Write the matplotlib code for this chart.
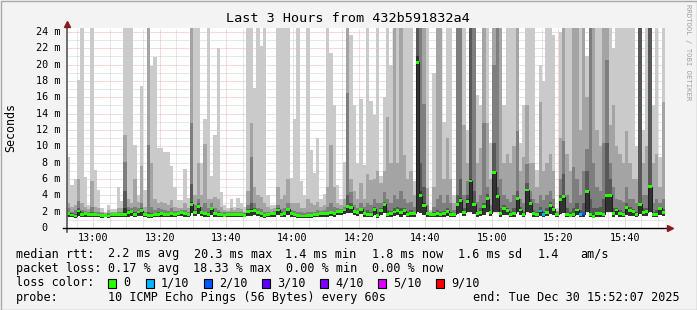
import numpy as np
import matplotlib
matplotlib.use('Agg')
import matplotlib.pyplot as plt
from matplotlib.patches import Rectangle

# one column per minute, 12:52 -> 15:52, values in ms
# smoke band tops (10 pings sorted: p10, p9, p8, p7, p6), bottom p1 and median
light = [8.7, 5.3, 6.0, 18.1, 30, 6.3, 2.8, 30, 7.1, 4.6,
         2.5, 2.0, 2.8, 2.3, 2.3, 5.0, 3.3, 30, 30, 30,
         10.1, 4.0, 17.4, 4.6, 30, 19.8, 20.9, 9.8, 9.8, 9.3,
         9.3, 7.6, 5.0, 3.4, 3.4, 7.2, 3.7, 30, 30, 30,
         8.0, 13.3, 30, 6.4, 11.4, 22.0, 4.4, 2.8, 2.4, 3.6,
         2.6, 3.7, 3.0, 2.6, 30, 30, 17.1, 30, 22.3, 30,
         4.0, 2.8, 2.8, 30, 30, 30, 30, 6.1, 13.3, 30,
         5.7, 4.0, 30, 9.6, 6.7, 11.0, 3.6, 4.2, 30, 21.4,
         15.1, 5.3, 3.6, 8.1, 30, 23.6, 15.1, 8.0, 15.8, 7.7,
         30, 15.5, 13.8, 30, 6.4, 16.0, 30, 20.0, 30, 30,
         30, 30, 30, 30, 5.7, 30, 30, 30, 30, 2.2,
         19.0, 30, 30, 13.0, 30, 30, 4.0, 30, 30, 30,
         12.0, 30, 30, 16.3, 15.1, 30, 30, 10.4, 30, 30,
         30, 15.1, 30, 30, 30, 30, 10.4, 15.1, 30, 30,
         30, 7.1, 20.0, 18.0, 30, 30, 23.6, 2.4, 24.0, 30,
         30, 30, 30, 30, 30, 30, 21.0, 30, 30, 30,
         30, 30, 30, 30, 22.0, 30, 30, 30, 30, 30,
         30, 10.0, 30, 12.0, 30, 30, 15.0, 30, 8.7, 30]
mid = [3.0, 2.6, 2.8, 6.0, 3.0, 2.6, 2.3, 5.8, 2.6, 2.4,
       2.0, 1.8, 2.2, 2.0, 2.0, 2.5, 2.4, 11.4, 3.5, 3.0,
       6.0, 3.2, 7.6, 2.6, 30, 8.0, 3.5, 3.0, 3.2, 3.0,
       2.8, 3.4, 2.6, 2.4, 2.5, 3.0, 2.5, 30, 4.0, 8.0,
       4.0, 10.3, 3.6, 3.6, 3.8, 3.5, 2.6, 2.2, 2.1, 2.5,
       2.2, 2.4, 2.3, 2.0, 4.5, 12.8, 5.0, 4.0, 3.8, 3.0,
       2.6, 2.3, 2.4, 5.0, 3.5, 4.0, 6.0, 3.0, 3.0, 3.0,
       2.5, 2.4, 3.5, 3.0, 2.8, 3.2, 2.6, 2.8, 5.0, 10.2,
       5.0, 3.0, 2.8, 3.5, 30, 6.0, 4.5, 3.5, 5.5, 3.6,
       6.6, 5.9, 6.0, 7.0, 5.5, 7.0, 13.6, 8.0, 30, 8.0,
       30, 8.9, 6.0, 7.0, 4.0, 30, 30, 30, 4.9, 2.0,
       5.0, 30, 30, 6.0, 11.0, 6.0, 3.0, 30, 30, 12.6,
       8.0, 30, 30, 8.0, 9.8, 30, 12.8, 6.0, 30, 30,
       30, 8.0, 9.0, 8.0, 10.0, 30, 7.0, 8.7, 15.1, 7.9,
       8.0, 5.0, 15.4, 7.0, 8.0, 9.0, 7.0, 2.1, 11.0, 30,
       9.1, 7.0, 30, 30, 12.0, 30, 16.0, 30, 30, 12.0,
       10.0, 30, 30, 12.6, 15.0, 10.0, 9.0, 8.0, 11.9, 8.0,
       6.0, 6.0, 30, 8.0, 10.0, 30, 8.0, 9.0, 5.0, 15.4]
dark1 = [2.4, 2.0, 2.2, 3.3, 2.2, 2.1, 2.0, 2.6, 2.0, 1.9,
         1.8, 1.7, 1.8, 1.8, 1.8, 2.0, 1.9, 8.1, 2.6, 2.4,
         2.6, 2.4, 3.0, 2.0, 10.2, 2.6, 2.2, 2.4, 2.3, 2.2,
         2.1, 2.4, 2.1, 2.1, 2.2, 2.2, 2.0, 12.8, 2.8, 3.6,
         2.6, 3.0, 2.4, 3.0, 2.4, 2.2, 2.0, 1.9, 1.9, 2.0,
         1.9, 2.0, 1.95, 1.8, 2.8, 8.7, 3.0, 2.5, 2.3, 2.0,
         2.0, 2.0, 2.1, 2.8, 2.3, 2.4, 3.0, 2.2, 2.1, 2.0,
         1.9, 1.8, 2.0, 2.0, 2.0, 2.2, 2.1, 2.2, 2.6, 3.0,
         2.6, 2.4, 2.3, 2.6, 16.5, 4.4, 2.8, 2.4, 3.0, 2.6,
         3.0, 2.8, 3.5, 3.0, 3.0, 4.4, 3.5, 3.0, 4.0, 3.5,
         4.5, 3.5, 3.0, 3.2, 2.6, 30, 30, 15.2, 2.8, 1.8,
         2.6, 3.5, 4.0, 3.0, 4.0, 3.0, 2.2, 30, 30, 4.0,
         5.7, 30, 30, 3.2, 4.0, 12.8, 5.0, 2.8, 20.0, 30,
         6.0, 4.0, 3.5, 3.2, 4.0, 11.9, 3.6, 3.0, 7.8, 4.5,
         3.5, 3.0, 4.0, 3.4, 4.0, 4.5, 3.5, 1.9, 6.0, 10.7,
         4.0, 3.0, 7.5, 6.0, 4.0, 7.0, 9.7, 30, 8.0, 5.0,
         4.5, 10.4, 20.6, 8.0, 5.0, 3.5, 3.4, 3.2, 5.0, 3.6,
         3.5, 3.0, 30, 4.0, 4.0, 30, 3.0, 3.5, 3.0, 3.5]
dark2 = [2.0, 1.8, 1.7, 2.5, 1.9, 1.9, 1.8, 2.0, 1.8, 1.7,
         1.6, 1.6, 1.6, 1.7, 1.7, 1.8, 1.7, 4.5, 2.2, 2.2,
         2.0, 2.1, 2.4, 1.8, 2.0, 1.8, 1.8, 1.9, 2.0, 1.8,
         1.8, 2.0, 1.8, 1.9, 2.0, 1.9, 1.8, 5.4, 2.2, 3.0,
         2.1, 2.0, 1.9, 2.6, 2.0, 1.9, 1.8, 1.7, 1.8, 1.85,
         1.8, 1.75, 1.8, 1.65, 2.3, 3.0, 2.4, 2.1, 1.95, 1.7,
         1.8, 1.85, 1.9, 2.4, 1.9, 2.0, 2.5, 1.9, 1.8, 1.7,
         1.6, 1.6, 1.65, 1.7, 1.75, 1.8, 1.85, 1.9, 2.0, 2.1,
         2.0, 2.15, 2.15, 2.35, 4.0, 3.0, 2.2, 2.05, 2.5, 2.0,
         2.2, 2.0, 2.6, 2.0, 2.4, 3.2, 2.2, 2.1, 2.4, 2.6,
         2.4, 2.5, 2.0, 2.2, 2.0, 30, 8.0, 5.0, 2.0, 1.68,
         1.9, 2.2, 2.0, 2.1, 2.5, 2.0, 1.8, 4.0, 6.0, 2.5,
         4.0, 30, 4.5, 2.0, 2.4, 3.0, 4.2, 2.0, 10.4, 5.0,
         2.5, 2.8, 2.5, 2.0, 2.4, 4.5, 2.6, 2.0, 5.5, 3.5,
         2.2, 2.0, 2.6, 2.0, 2.5, 3.2, 2.6, 1.8, 4.0, 6.6,
         2.4, 2.0, 2.5, 3.0, 2.2, 3.0, 7.0, 3.5, 2.4, 2.4,
         2.6, 3.5, 10.4, 6.0, 2.5, 2.5, 2.2, 2.0, 3.0, 2.6,
         2.3, 2.0, 30, 2.4, 2.5, 30, 2.0, 2.2, 2.6, 2.3]
dark3 = [1.9, 1.7, 1.6, 2.2, 1.8, 1.8, 1.7, 1.8, 1.7, 1.65,
         1.55, 1.58, 1.5, 1.68, 1.68, 1.72, 1.66, 2.4, 2.0, 2.1,
         1.8, 2.0, 2.2, 1.7, 1.6, 1.6, 1.7, 1.8, 1.85, 1.72,
         1.7, 1.8, 1.72, 1.84, 1.9, 1.8, 1.7, 3.2, 2.0, 2.8,
         2.0, 1.8, 1.75, 2.4, 1.85, 1.75, 1.72, 1.6, 1.75, 1.78,
         1.7, 1.68, 1.75, 1.6, 2.1, 2.3, 2.2, 2.0, 1.8, 1.6,
         1.72, 1.8, 1.83, 2.3, 1.8, 1.85, 2.35, 1.84, 1.72, 1.6,
         1.52, 1.52, 1.55, 1.56, 1.68, 1.72, 1.78, 1.83, 1.8, 1.98,
         1.85, 2.05, 2.08, 2.25, 2.8, 2.6, 2.05, 1.95, 2.35, 1.85,
         1.8, 1.7, 2.35, 1.6, 2.15, 3.0, 1.72, 1.82, 2.0, 2.25,
         1.95, 2.2, 1.72, 1.8, 1.83, 21.0, 4.5, 3.0, 1.8, 1.65,
         1.7, 1.8, 1.72, 1.8, 2.1, 1.66, 1.7, 3.1, 3.7, 2.0,
         3.5, 6.0, 3.1, 1.82, 1.92, 2.7, 3.8, 1.9, 7.0, 4.1,
         1.8, 2.5, 2.15, 1.75, 1.85, 3.8, 2.3, 1.78, 4.8, 3.2,
         1.8, 1.72, 2.2, 1.7, 2.0, 2.8, 2.4, 1.75, 3.6, 4.0,
         1.8, 1.6, 1.7, 2.3, 1.68, 1.85, 4.7, 1.8, 1.55, 1.8,
         1.9, 1.8, 4.2, 4.2, 1.9, 2.3, 1.9, 1.75, 2.6, 2.2,
         2.1, 1.7, 3.1, 2.0, 2.1, 5.3, 1.8, 1.8, 2.45, 2.0]
median = [1.79, 1.59, 1.47, 2.08, 1.67, 1.75, 1.63, 1.67, 1.63, 1.59,
          1.51, 1.55, 1.47, 1.63, 1.63, 1.67, 1.63, 1.67, 1.88, 2.0,
          1.71, 1.96, 2.12, 1.67, 1.51, 1.51, 1.63, 1.71, 1.79, 1.67,
          1.63, 1.75, 1.67, 1.79, 1.84, 1.75, 1.63, 2.9, 1.88, 2.61,
          1.92, 1.75, 1.67, 2.33, 1.79, 1.67, 1.67, 1.55, 1.71, 1.71,
          1.67, 1.63, 1.71, 1.55, 2.0, 2.08, 2.12, 1.92, 1.75, 1.51,
          1.67, 1.75, 1.79, 2.2, 1.71, 1.79, 2.29, 1.79, 1.67, 1.55,
          1.47, 1.47, 1.51, 1.51, 1.63, 1.67, 1.75, 1.79, 1.75, 1.92,
          1.79, 2.0, 2.04, 2.2, 2.61, 2.53, 2.0, 1.92, 2.29, 1.79,
          1.67, 1.63, 2.29, 1.55, 2.12, 2.9, 1.67, 1.79, 1.96, 2.17,
          1.88, 2.12, 1.67, 1.75, 1.79, 20.3, 3.96, 2.7, 1.75, 1.63,
          1.67, 1.75, 1.67, 1.75, 2.04, 1.63, 1.67, 2.9, 3.4, 1.92,
          3.3, 5.75, 2.9, 1.79, 1.88, 2.6, 3.6, 1.88, 6.8, 3.9,
          1.75, 2.4, 2.1, 1.7, 1.8, 3.6, 2.2, 1.7, 4.65, 3.0,
          1.75, 1.67, 2.08, 1.6, 1.9, 2.7, 2.3, 1.7, 3.5, 3.8,
          1.7, 1.55, 1.6, 2.2, 1.6, 1.75, 4.5, 1.7, 1.45, 1.75,
          1.8, 1.7, 4.0, 4.0, 1.8, 2.2, 1.8, 1.7, 2.5, 2.1,
          2.0, 1.6, 2.9, 1.9, 2.0, 5.06, 1.7, 1.7, 2.4, 1.9]
low = [1.4, 1.3, 1.2, 1.5, 1.3, 1.4, 1.3, 1.3, 1.3, 1.3,
       1.2, 1.3, 1.2, 1.4, 1.4, 1.4, 1.3, 1.3, 1.4, 1.5,
       1.4, 1.5, 1.5, 1.3, 1.2, 1.2, 1.3, 1.4, 1.4, 1.3,
       1.3, 1.4, 1.3, 1.5, 1.5, 1.4, 1.3, 1.8, 1.5, 1.7,
       1.5, 1.4, 1.3, 1.6, 1.4, 1.3, 1.3, 1.3, 1.4, 1.4,
       1.4, 1.3, 1.4, 1.3, 1.5, 1.5, 1.6, 1.5, 1.4, 1.2,
       1.3, 1.4, 1.4, 1.6, 1.4, 1.4, 1.6, 1.4, 1.3, 1.2,
       1.2, 1.2, 1.2, 1.2, 1.3, 1.3, 1.4, 1.4, 1.4, 1.5,
       1.4, 1.6, 1.6, 1.7, 1.8, 1.8, 1.6, 1.5, 1.7, 1.4,
       1.3, 1.3, 1.6, 1.2, 1.6, 1.8, 1.3, 1.4, 1.5, 1.6,
       1.4, 1.6, 1.3, 1.4, 1.4, 2.0, 1.8, 1.6, 1.3, 1.4,
       1.3, 1.4, 1.3, 1.4, 1.5, 1.3, 1.3, 1.7, 1.8, 1.5,
       1.9, 2.0, 1.7, 1.4, 1.5, 1.6, 2.0, 1.5, 2.0, 1.9,
       1.4, 1.6, 1.6, 1.4, 1.4, 1.9, 1.6, 1.4, 1.9, 1.8,
       1.4, 1.3, 1.5, 1.3, 1.5, 1.7, 1.6, 1.4, 1.7, 1.8,
       1.4, 1.3, 1.3, 1.6, 1.3, 1.4, 1.9, 1.4, 1.2, 1.4,
       1.4, 1.4, 1.9, 1.9, 1.4, 1.6, 1.4, 1.4, 1.6, 1.5,
       1.5, 1.3, 1.7, 1.5, 1.5, 2.0, 1.4, 1.4, 1.6, 1.5]

# minutes with packet loss and how many of 10 pings were lost
loss_cols = [142, 143, 154, 155]
loss_vals = [1, 1, 1, 2]

loss_labels = ['0', '1/10', '2/10', '3/10', '4/10', '5/10', '9/10']
loss_colors = ['#26ff00', '#00b8ff', '#0059ff', '#5e00ff', '#7e00ff', '#dd00ff', '#ff0000']

time_labels = ['13:00', '13:20', '13:40', '14:00', '14:20', '14:40', '15:00', '15:20', '15:40']
first_tick = 7.88  # 13:00 is 7.88 min after the start (12:52:07)

W, H = 697, 310
MONO = 'DejaVu Sans Mono'

fig = plt.figure(figsize=(W / 100, H / 100), dpi=100, facecolor='#f3f3f3')
ax = fig.add_axes([67 / W, (H - 228) / H, 598 / W, 200 / H])
ax.set_facecolor('white')
ax.set_xlim(0, 180)
ax.set_ylim(0, 24.48)
for s in ax.spines.values():
    s.set_visible(False)

# grid, behind the smoke
dot = (0, (1, 1))
for v in range(1, 25):
    c = '#f0b4b4' if v % 2 == 0 else '#d0d0d0'
    ax.axhline(v, color=c, lw=0.72, ls=dot, zorder=0.5, snap=True)
for m in np.arange(first_tick - 5, 180, 5):
    major = abs(((m - first_tick) % 20)) < 0.01
    ax.axvline(m, color='#f0b4b4' if major else '#d0d0d0', lw=0.72, ls=dot,
               zorder=0.5, snap=True)

# smoke
n = len(median)
xe = np.arange(n + 1)


def ext(a):
    a = np.asarray(a, dtype=float)
    return np.append(a, a[-1])


bands = [(light, '#cacaca'), (mid, '#a4a4a4'), (dark1, '#7e7e7e'),
         (dark2, '#585858'), (dark3, '#323232')]
for top, col in bands:
    ax.fill_between(xe, ext(low), ext(top), step='post', color=col, lw=0, zorder=2)

# median line and loss coloured marks
med = np.asarray(median)
ax.step(xe, ext(median), where='post', color='#202020', lw=0.75, zorder=3)
cols = [loss_colors[0]] * n
for c, l in zip(loss_cols, loss_vals):
    cols[c] = loss_colors[l]
ax.bar(np.arange(n), 0.36, bottom=med - 0.18, width=1, align='edge',
       color=cols, lw=0, zorder=4)

# axes lines + arrows
ax.plot([0, 0], [-0.02, 1.0], transform=ax.transAxes, color='#555555', lw=1.2,
        clip_on=False, zorder=5)
ax.plot([-0.006, 1.004], [0, 0], transform=ax.transAxes, color='black', lw=1.0,
        clip_on=False, zorder=5)
ax.plot([0], [1.022], marker='^', ms=4.5, color='#8b1a1a', transform=ax.transAxes,
        clip_on=False, zorder=6)
ax.plot([1.008], [0], marker='>', ms=4.5, color='#8b1a1a', transform=ax.transAxes,
        clip_on=False, zorder=6)

# tick labels
ax.set_xticks([first_tick + 20 * i for i in range(len(time_labels))])
ax.set_xticklabels(time_labels, family=MONO, fontsize=7.3)
ax.set_yticks([])
ax.tick_params(axis='x', length=0, pad=3.6)
for v in range(2, 25, 2):
    ax.annotate('%d m' % v, xy=(0, v), xycoords=('axes fraction', 'data'),
                xytext=(-5.0, 0), textcoords='offset points', ha='right', va='center',
                family=MONO, fontsize=7.3)
ax.annotate('0', xy=(0, 0), xycoords=('axes fraction', 'data'),
            xytext=(-13.7, 0), textcoords='offset points', ha='right', va='center',
            family=MONO, fontsize=7.3)


def ftxt(x, y, s, **kw):
    kw.setdefault('fontsize', 8.5)
    kw.setdefault('va', 'center')
    return fig.text(x / W, 1 - y / H, s, family=MONO, **kw)


ftxt(348, 19, 'Last 3 Hours from 432b591832a4', ha='center', fontsize=9.7)
ftxt(11, 128, 'Seconds', ha='center', rotation=90, fontsize=8.4)
ftxt(688, 4, 'RRDTOOL / TOBI OETIKER', ha='center', va='top', rotation=270,
     fontsize=5.2, color='#a0a0a0')

row1 = [(16, 'median rtt:'), (108, '2.2 ms avg'), (194, '20.3 ms max'), (285, '1.4 ms min'),
        (372, '1.8 ms now'), (458, '1.6 ms sd'), (538, '1.4'), (580, 'am/s')]
row2 = [(16, 'packet loss:'), (108, '0.17 % avg'), (193, '18.33 % max'),
        (286, '0.00 % min'), (372, '0.00 % now')]
for x, s in row1:
    ftxt(x, 254, s)
for x, s in row2:
    ftxt(x, 268.5, s)

ftxt(16, 283, 'loss color:')
box_x = [108, 146, 204, 262, 320, 378, 436]
for bx, lab, col in zip(box_x, loss_labels, loss_colors):
    fig.add_artist(Rectangle((bx / W, 1 - 287.5 / H), 8 / W, 8.5 / H, facecolor=col,
                             edgecolor='black', lw=0.8, transform=fig.transFigure))
    ftxt(bx + 15, 283, lab)

ftxt(16, 297.5, 'probe:')
ftxt(108, 297.5, '10 ICMP Echo Pings (56 Bytes) every 60s')
ftxt(680, 297.5, 'end: Tue Dec 30 15:52:07 2025', ha='right')

fig.add_artist(Rectangle((0.5 / W, 0.5 / H), (W - 1) / W, (H - 1) / H, fill=False,
                         edgecolor='#a8a8a8', lw=1.0, transform=fig.transFigure))

fig.savefig('out.png', dpi=100, facecolor=fig.get_facecolor())
